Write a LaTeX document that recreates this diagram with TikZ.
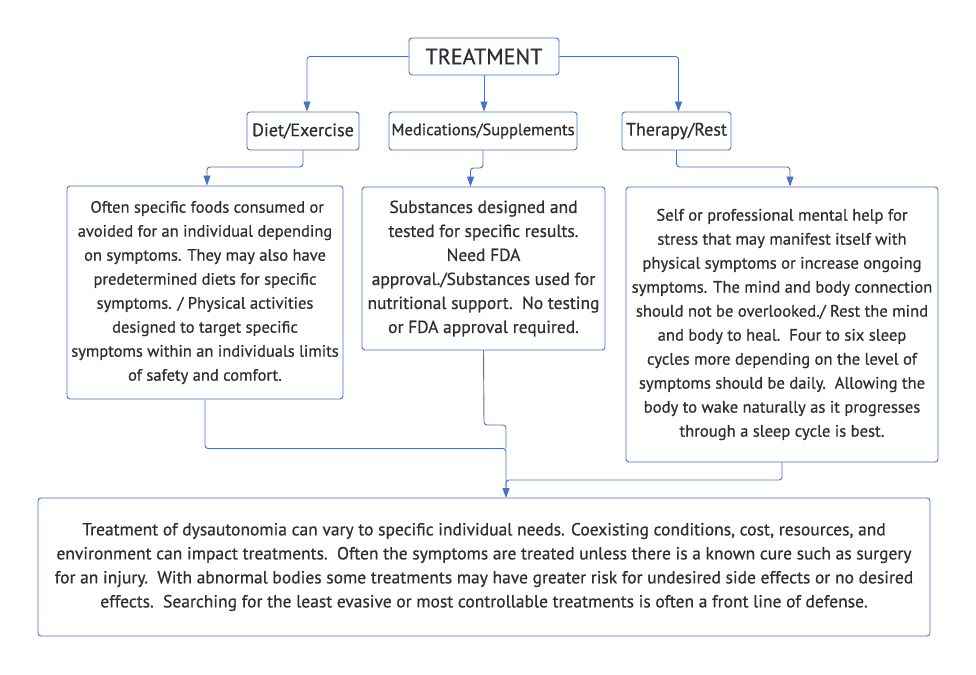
\documentclass[tikz,border=0pt]{standalone}
\usepackage{fontspec}
\setmainfont[FakeBold=0.6]{PT Sans}
\usetikzlibrary{arrows.meta}
\definecolor{edge}{HTML}{4A72C0}
\definecolor{txt}{HTML}{2E2E34}
\begin{document}
\begin{tikzpicture}[x=1pt,y=-1pt,
 box/.style={draw=edge, line width=0.9pt, rounded corners=3pt, fill=white, text=txt, align=center, inner sep=0pt, font=\fontsize{17.5}{24}\selectfont},
 conn/.style={draw=edge, line width=0.9pt, rounded corners=3pt, -{Triangle[length=10pt,width=7pt]}},
 wire/.style={draw=edge, line width=0.9pt, rounded corners=3pt}]
\path[use as bounding box, fill=white] (0,0) rectangle (976,674);
\node[box, minimum width=150, minimum height=37, font=\fontsize{22}{24}\selectfont] (t) at (484,56.5) {TREATMENT};
\node[box, minimum width=112, minimum height=38, font=\fontsize{18}{24}\selectfont] (diet) at (303,131) {Diet/Exercise};
\node[box, minimum width=188, minimum height=38, font=\fontsize{16.5}{24}\selectfont] (meds) at (483,131) {Medications/Supplements};
\node[box, minimum width=109, minimum height=38, font=\fontsize{18}{24}\selectfont] (ther) at (676.5,131) {Therapy/Rest};
\node[box, minimum width=276, minimum height=213, font=\fontsize{16.5}{24}\selectfont] (b1) at (205,292.5) {\ Often specific foods consumed or\\avoided for an individual depending\\on symptoms. They may also have\\predetermined diets for specific\\symptoms. / Physical activities\\designed to target specific\\symptoms within an individuals limits\\of safety and comfort.};
\node[box, minimum width=243, minimum height=163] (b2) at (483.5,268.5) {Substances designed and\\tested for specific results.\\Need FDA\\approval./Substances used for\\nutritional support.\ \ No testing\\or FDA approval required.};
\node[box, minimum width=312, minimum height=275, font=\fontsize{16.6}{24}\selectfont] (b3) at (782,324.5) {Self or professional mental help for\\stress that may manifest itself with\\physical symptoms or increase ongoing\\symptoms. The mind and body connection\\should not be overlooked./ Rest the mind\\and body to heal.\ \ Four to six sleep\\cycles more depending on the level of\\symptoms should be daily.\ \ Allowing the\\body to wake naturally as it progresses\\through a sleep cycle is best.};
\node[box, minimum width=892, minimum height=138] (bot) at (484,567) {Treatment of dysautonomia can vary to specific individual needs. Coexisting conditions, cost, resources, and\\environment can impact treatments.\ \ Often the symptoms are treated unless there is a known cure such as surgery\\for an injury.\ \ With abnormal bodies some treatments may have greater risk for undesired side effects or no desired\\effects.\ \ Searching for the least evasive or most controllable treatments is often a front line of defense.};
\coordinate (m) at (506,498);
\coordinate (j) at (506,448.5);
\draw[conn] (t.west) -| ([xshift=4]diet.north);
\draw[conn] (t.south) -- (t.south |- meds.north);
\draw[conn] (t.east) -| ([xshift=2]ther.north);
\draw[conn] (diet.south) -- (303,167) -| ([xshift=2]b1.north);
\draw[conn] (meds.south) -- (483,168) -| ([xshift=-13]b2.north);
\draw[conn] (ther.south) -- (676.5,167) -| ([xshift=8]b3.north);
\draw[conn] (b1.south) -- (205,448.5) -| (m);
\draw[wire] (b2.south) -- (484,425) -| (j);
\draw[wire] (b3.south) -- (782,480) -| (506,490);
\end{tikzpicture}
\end{document}
